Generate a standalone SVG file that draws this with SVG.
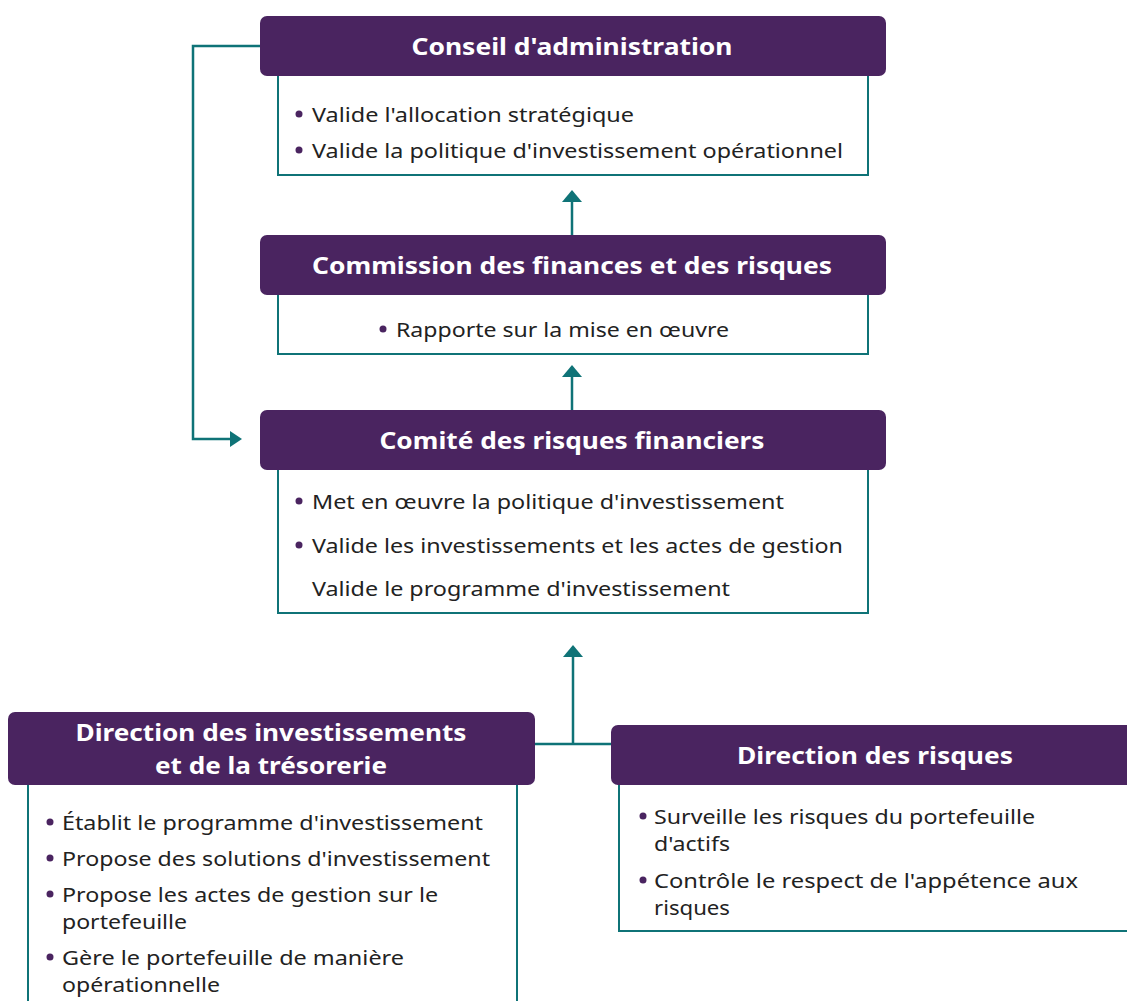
<svg xmlns="http://www.w3.org/2000/svg" width="1127" height="1001" viewBox="0 0 1127 1001">
<defs>
<style>
.hdr{fill:#4a2460}
.body{fill:#fff;stroke:#0f7377;stroke-width:2}
.ht{font-family:"Noto Sans",Lato,sans-serif;font-weight:bold;font-size:23px;fill:#fff;text-anchor:middle}
.bt{font-family:"Noto Sans",Lato,sans-serif;font-size:20.5px;fill:#222}
.dot{fill:#4a2460}
.ln{fill:none;stroke:#0f7377;stroke-width:2.5}
.ah{fill:#0f7377}
</style>
</defs>
<rect width="1127" height="1001" fill="#fff"/>
<g id="connectors">
<polyline class="ln" points="262,46 193,46 193,439 232,439"/>
<polygon class="ah" points="242,439 230,431 230,447"/>
<line class="ln" x1="572" y1="236" x2="572" y2="200"/>
<polygon class="ah" points="572,190 562,202 582,202"/>
<line class="ln" x1="572" y1="411" x2="572" y2="375"/>
<polygon class="ah" points="572,365 562,377 582,377"/>
<line class="ln" x1="573" y1="744" x2="573" y2="655"/>
<polygon class="ah" points="573,645 563,657 583,657"/>
<line class="ln" x1="533" y1="744" x2="613" y2="744"/>
</g>
<g id="conseil">
<rect class="body" x="278" y="60" width="590" height="115"/>
<rect class="hdr" x="260" y="16" width="626" height="60" rx="7"/>
<text class="ht" x="572" y="55" textLength="321" lengthAdjust="spacingAndGlyphs">Conseil d'administration</text>
<circle class="dot" cx="299" cy="114" r="3.5"/>
<text class="bt" x="312" y="122" textLength="322" lengthAdjust="spacingAndGlyphs">Valide l'allocation stratégique</text>
<circle class="dot" cx="299" cy="150" r="3.5"/>
<text class="bt" x="312" y="158" textLength="531" lengthAdjust="spacingAndGlyphs">Valide la politique d'investissement opérationnel</text>
</g>
<g id="commission">
<rect class="body" x="278" y="280" width="590" height="74"/>
<rect class="hdr" x="260" y="235" width="626" height="60" rx="7"/>
<text class="ht" x="572" y="274" textLength="520" lengthAdjust="spacingAndGlyphs">Commission des finances et des risques</text>
<circle class="dot" cx="383" cy="329" r="3.5"/>
<text class="bt" x="396" y="337" textLength="333" lengthAdjust="spacingAndGlyphs">Rapporte sur la mise en œuvre</text>
</g>
<g id="comite">
<rect class="body" x="278" y="455" width="590" height="158"/>
<rect class="hdr" x="260" y="410" width="626" height="60" rx="7"/>
<text class="ht" x="572" y="449" textLength="385" lengthAdjust="spacingAndGlyphs">Comité des risques financiers</text>
<circle class="dot" cx="299" cy="501" r="3.5"/>
<text class="bt" x="312" y="509" textLength="472" lengthAdjust="spacingAndGlyphs">Met en œuvre la politique d'investissement</text>
<circle class="dot" cx="299" cy="545" r="3.5"/>
<text class="bt" x="312" y="553" textLength="531" lengthAdjust="spacingAndGlyphs">Valide les investissements et les actes de gestion</text>
<text class="bt" x="312" y="596" textLength="418" lengthAdjust="spacingAndGlyphs">Valide le programme d'investissement</text>
</g>
<g id="direction-investissements">
<rect class="body" x="28" y="770" width="489" height="240"/>
<rect class="hdr" x="8" y="712" width="527" height="73" rx="7"/>
<text class="ht" x="271" y="741" textLength="391" lengthAdjust="spacingAndGlyphs">Direction des investissements</text>
<text class="ht" x="271" y="774" textLength="232" lengthAdjust="spacingAndGlyphs">et de la trésorerie</text>
<circle class="dot" cx="50" cy="822" r="3.5"/>
<text class="bt" x="62" y="830" textLength="421" lengthAdjust="spacingAndGlyphs">Établit le programme d'investissement</text>
<circle class="dot" cx="50" cy="858" r="3.5"/>
<text class="bt" x="62" y="866" textLength="428" lengthAdjust="spacingAndGlyphs">Propose des solutions d'investissement</text>
<circle class="dot" cx="50" cy="894" r="3.5"/>
<text class="bt" x="62" y="902" textLength="376" lengthAdjust="spacingAndGlyphs">Propose les actes de gestion sur le</text>
<text class="bt" x="62" y="929" textLength="125" lengthAdjust="spacingAndGlyphs">portefeuille</text>
<circle class="dot" cx="50" cy="957" r="3.5"/>
<text class="bt" x="62" y="965" textLength="342" lengthAdjust="spacingAndGlyphs">Gère le portefeuille de manière</text>
<text class="bt" x="62" y="992" textLength="158" lengthAdjust="spacingAndGlyphs">opérationnelle</text>
</g>
<g id="direction-risques">
<rect class="body" x="619" y="770" width="520" height="161"/>
<rect class="hdr" x="611" y="725" width="530" height="60" rx="7"/>
<text class="ht" x="875" y="764" textLength="276" lengthAdjust="spacingAndGlyphs">Direction des risques</text>
<circle class="dot" cx="643" cy="816" r="3.5"/>
<text class="bt" x="654" y="824" textLength="381" lengthAdjust="spacingAndGlyphs">Surveille les risques du portefeuille</text>
<text class="bt" x="654" y="851" textLength="76" lengthAdjust="spacingAndGlyphs">d'actifs</text>
<circle class="dot" cx="643" cy="880" r="3.5"/>
<text class="bt" x="654" y="888" textLength="424" lengthAdjust="spacingAndGlyphs">Contrôle le respect de l'appétence aux</text>
<text class="bt" x="654" y="915" textLength="76" lengthAdjust="spacingAndGlyphs">risques</text>
</g>
</svg>
